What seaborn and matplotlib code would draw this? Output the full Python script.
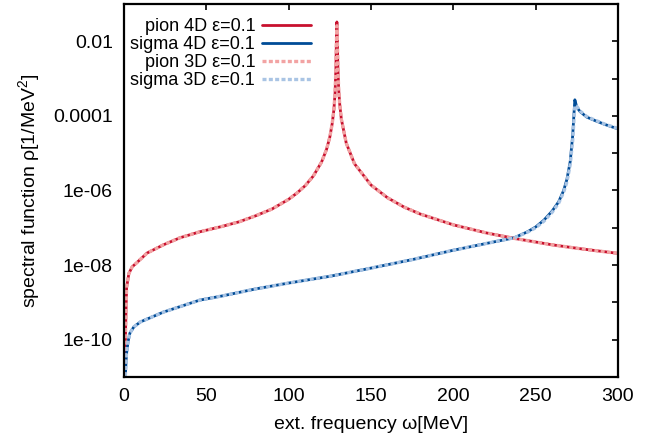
import numpy as np
import pandas as pd
import matplotlib
matplotlib.use("Agg")
import matplotlib.pyplot as plt
import matplotlib.ticker as mticker
import seaborn as sns

# =============================
# data
# =============================

# pion: omega grid [MeV] and rho [1/MeV^2]
pion_w = [0.3, 0.6, 1.0, 1.6, 3.0, 5.0, 7.7, 14, 24, 34, 46, 60, 70, 80, 90,
          100, 105, 110, 115, 120, 123, 125, 126.5, 127.5, 128.2, 128.7, 129.0,
          129.3, 129.6, 129.9, 130.4, 131, 132, 135, 140, 150, 160, 170, 180,
          200, 220, 237, 260, 277, 300]
pion4d_rho = [1e-12, 1e-11, 2e-10, 2.5e-9, 6e-9, 9e-9, 1.15e-8, 2.1e-8, 3.5e-8,
              5.4e-8, 7.8e-8, 1.1e-7, 1.45e-7, 2.1e-7, 3.2e-7,
              5.8e-7, 8.5e-7, 1.34e-6, 2.45e-6, 5.8e-6, 1.26e-5, 2.7e-5, 6.4e-5,
              1.5e-4, 4.1e-4, 2e-3, 1e-2,
              3.3e-2, 1e-2, 2e-3, 5e-4, 2.1e-4, 8.2e-5, 1.85e-5, 5.2e-6, 1.4e-6,
              6.4e-7, 3.6e-7, 2.33e-7,
              1.2e-7, 7.3e-8, 5.2e-8, 3.5e-8, 2.75e-8, 2.06e-8]
pion3d_rho = [1e-12, 1e-11, 2e-10, 2.5e-9, 6e-9, 9e-9, 1.15e-8, 2.1e-8, 3.5e-8,
              5.4e-8, 7.8e-8, 1.1e-7, 1.45e-7, 2.1e-7, 3.2e-7,
              5.8e-7, 8.5e-7, 1.34e-6, 2.45e-6, 5.8e-6, 1.26e-5, 2.7e-5, 6.4e-5,
              1.5e-4, 4.1e-4, 1.9e-3, 8.5e-3,
              2.6e-2, 9e-3, 2e-3, 5e-4, 2.1e-4, 8.2e-5, 1.85e-5, 5.2e-6, 1.4e-6,
              6.4e-7, 3.6e-7, 2.33e-7,
              1.2e-7, 7.3e-8, 5.2e-8, 3.5e-8, 2.75e-8, 2.06e-8]

# sigma
sigma_w = [0.3, 0.8, 1.5, 2.5, 3.6, 6, 10, 24, 46, 60, 80, 100, 125, 150, 175,
           200, 220, 237, 245, 250, 255, 260, 264, 267, 269, 271, 272.5, 273.2,
           273.8, 275, 277, 281, 286, 292, 298, 300]
sigma4d_rho = [1e-12, 1e-11, 4e-11, 9e-11, 1.5e-10, 2.2e-10, 3e-10, 5.5e-10,
               1.15e-9, 1.5e-9, 2.3e-9, 3.3e-9, 5e-9, 8.3e-9, 1.4e-8,
               2.5e-8, 3.8e-8, 5.4e-8, 7.8e-8, 1.05e-7, 1.6e-7, 2.8e-7, 5e-7,
               1e-6, 2e-6, 6e-6, 3e-5, 1e-4,
               2.7e-4, 1.7e-4, 1.3e-4, 9.3e-5, 7.5e-5, 5.9e-5, 4.8e-5, 4.5e-5]
sigma3d_rho = [1e-12, 1e-11, 4e-11, 9e-11, 1.5e-10, 2.2e-10, 3e-10, 5.5e-10,
               1.15e-9, 1.5e-9, 2.3e-9, 3.3e-9, 5e-9, 8.3e-9, 1.4e-8,
               2.5e-8, 3.8e-8, 5.4e-8, 7.6e-8, 1.0e-7, 1.5e-7, 2.6e-7, 4.6e-7,
               9e-7, 1.7e-6, 5e-6, 2.2e-5, 7e-5,
               1.9e-4, 1.8e-4, 1.35e-4, 9.6e-5, 7.7e-5, 6e-5, 4.9e-5, 4.6e-5]

series_labels = ['pion 4D ε=0.1', 'sigma 4D ε=0.1', 'pion 3D ε=0.1', 'sigma 3D ε=0.1']

xticks = [0, 50, 100, 150, 200, 250, 300]
ytick_vals = [1e-11, 1e-10, 1e-9, 1e-8, 1e-7, 1e-6, 1e-5, 1e-4, 1e-3, 1e-2, 1e-1]
ytick_labels = ['', '1e-10', '', '1e-08', '', '1e-06', '', '0.0001', '', '0.01', '']

# =============================
# plot
# =============================

sns.set_theme(style='white')
plt.rcParams['font.family'] = ['Liberation Sans', 'DejaVu Sans']
plt.rcParams['text.color'] = 'black'
plt.rcParams['axes.labelcolor'] = 'black'

fig = plt.figure(figsize=(6.64, 4.38), dpi=100)
ax = fig.add_axes([0.1867, 0.1393, 0.744, 0.8516])

sns.lineplot(x=pion_w, y=pion4d_rho, ax=ax, color='#c8102e', lw=2.0, label=series_labels[0])
sns.lineplot(x=sigma_w, y=sigma4d_rho, ax=ax, color='#004c97', lw=2.0, label=series_labels[1])
sns.lineplot(x=pion_w, y=pion3d_rho, ax=ax, color='#f2a3a3', lw=2.4,
             linestyle=(0, (1.2, 0.7)), label=series_labels[2])
sns.lineplot(x=sigma_w, y=sigma3d_rho, ax=ax, color='#a9c4e4', lw=2.4,
             linestyle=(0, (1.2, 0.7)), label=series_labels[3])

ax.set_yscale('log')
ax.set_xlim(0, 300)
ax.set_ylim(1e-11, 1e-1)
ax.xaxis.set_major_locator(mticker.FixedLocator(xticks))
ax.yaxis.set_major_locator(mticker.FixedLocator(ytick_vals))
ax.yaxis.set_major_formatter(mticker.FixedFormatter(ytick_labels))
ax.yaxis.set_minor_locator(mticker.NullLocator())

ax.tick_params(direction='in', length=4.5, width=1.2, labelsize=14, pad=8,
               top=True, right=True, colors='black')
for s in ax.spines.values():
    s.set_linewidth(1.6)
    s.set_color('black')

ax.set_xlabel('ext. frequency ω[MeV]', fontsize=14, labelpad=8, color='black')
ax.set_ylabel(r'spectral function ρ[1/MeV$\mathregular{^2}$]', fontsize=14, labelpad=8,
              color='black')

leg = ax.legend(loc='upper right', bbox_to_anchor=(0.379, 0.962), frameon=False,
                markerfirst=False, fontsize=13, handlelength=2.7, handletextpad=0.4,
                labelspacing=0.06, borderpad=0, borderaxespad=0)
for t in leg.get_texts():
    t.set_color('black')

fig.savefig('out.png', dpi=100)
